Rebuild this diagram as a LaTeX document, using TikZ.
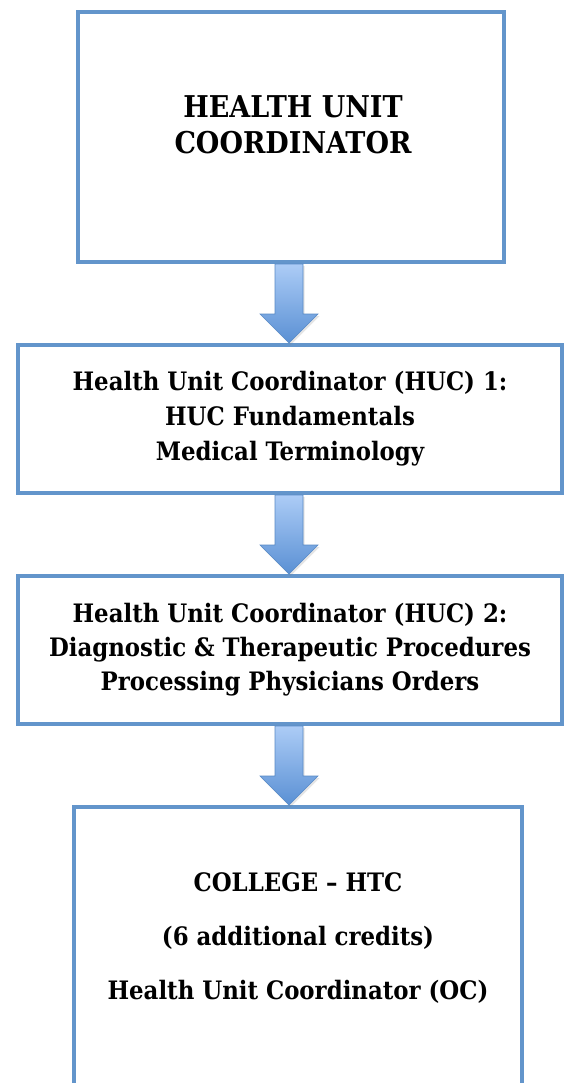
\documentclass[tikz,border=0pt]{standalone}
\usepackage{fontspec}
\setmainfont{DejaVu Serif Condensed}
\usetikzlibrary{calc,shadows}
\definecolor{boxblue}{RGB}{99,149,203}
\definecolor{arrtop}{RGB}{172,204,246}
\definecolor{arrbot}{RGB}{90,144,212}
\definecolor{arredge}{RGB}{88,138,198}
\tikzset{
  box/.style={draw=boxblue, line width=4pt, rectangle, inner sep=0pt, align=center,
    font=\bfseries\fontsize{25.4}{35}\selectfont},
  textonly/.style={inner sep=0pt, align=center, font=\bfseries\fontsize{25.4}{54}\selectfont},
  blockarr/.style={top color=arrtop, bottom color=arrbot, draw=arredge, line width=0.6pt,
    drop shadow={shadow xshift=1.5pt, shadow yshift=-2pt, opacity=0.2}},
}
\newcommand{\blockarrow}[2]{%
  \path[blockarr] let \p1=(#1.south), \p2=(#2.north) in
   (275pt,\y1) -- (303pt,\y1) -- (303pt,\y2+29pt) -- (318pt,\y2+29pt) -- (289pt,\y2)
   -- (260pt,\y2+29pt) -- (275pt,\y2+29pt) -- cycle;}
\begin{document}
\begin{tikzpicture}[x=1pt,y=1pt]
\path[use as bounding box, clip] (0,0) rectangle (567,-1083);
\fill[white] (0,0) rectangle (567,-1083);
\node[box, minimum width=426pt, minimum height=250pt] (b1) at (291,-137) {};
\node[textonly, font=\bfseries\fontsize{30}{36}\selectfont] (t1) at (293,-125) {HEALTH UNIT\\COORDINATOR};
\node[box, minimum width=544pt, minimum height=148pt] (b2) at (290,-419)
  {Health Unit Coordinator (HUC) 1:\\HUC Fundamentals\\Medical Terminology};
\node[box, minimum width=544pt, minimum height=148pt,
  font=\bfseries\fontsize{25.4}{34}\selectfont] (b3) at (290,-650)
  {Health Unit Coordinator (HUC) 2:\\Diagnostic \& Therapeutic Procedures\\Processing Physicians Orders};
\node[box, minimum width=448pt, minimum height=330pt, anchor=north] (b4) at (298,-805) {};
\node[textonly] (t4) at (298,-938)
  {COLLEGE – HTC\\(6 additional credits)\\Health Unit Coordinator (OC)};
\blockarrow{b1}{b2}
\blockarrow{b2}{b3}
\blockarrow{b3}{b4}
\end{tikzpicture}
\end{document}
